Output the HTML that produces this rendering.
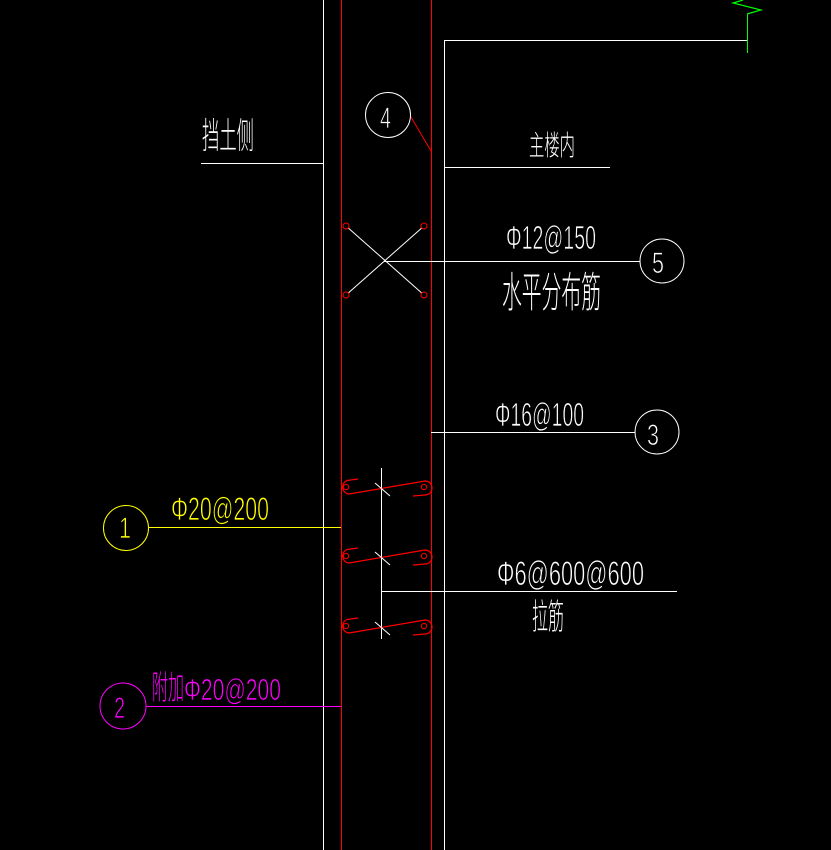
<!DOCTYPE html>
<html><head><meta charset="utf-8"><style>
html,body{margin:0;padding:0;background:#000;width:831px;height:850px;overflow:hidden}
svg{display:block}
.lat{font-family:"Liberation Sans Narrow","Liberation Sans",sans-serif;font-weight:normal;stroke:#000;stroke-width:0.8px}
.cjk{font-family:"Liberation Sans","Noto Sans CJK SC",sans-serif;font-weight:300}
</style></head><body>
<svg width="831" height="850" viewBox="0 0 831 850" xmlns="http://www.w3.org/2000/svg">
<rect width="831" height="850" fill="#000"/>
<g fill="none" stroke-width="1" shape-rendering="crispEdges">
  <line x1="323.5" y1="0" x2="323.5" y2="850" stroke="#fff"/>
  <line x1="341.5" y1="0" x2="341.5" y2="850" stroke="#ff0000"/>
  <line x1="431.5" y1="0" x2="431.5" y2="850" stroke="#ff0000"/>
  <line x1="444.5" y1="40" x2="444.5" y2="850" stroke="#fff"/>
  <line x1="444" y1="40.5" x2="747" y2="40.5" stroke="#fff"/>
  <line x1="201" y1="163.5" x2="323" y2="163.5" stroke="#fff"/>
  <line x1="444" y1="167.5" x2="610" y2="167.5" stroke="#fff"/>
  <line x1="384" y1="261.5" x2="640" y2="261.5" stroke="#fff"/>
  <line x1="431" y1="432.5" x2="635" y2="432.5" stroke="#fff"/>
  <line x1="381.5" y1="468" x2="381.5" y2="639" stroke="#fff"/>
  <line x1="381" y1="591.5" x2="677" y2="591.5" stroke="#fff"/>
  <line x1="149" y1="527.5" x2="341" y2="527.5" stroke="#ffff00"/>
  <line x1="146" y1="706.5" x2="341" y2="706.5" stroke="#ff00ff"/>
  <line x1="747.5" y1="14" x2="747.5" y2="53" stroke="#00ff00"/>
</g>
<polyline points="747,14 761,10 733,3 743,0" fill="none" stroke="#00ff00" stroke-width="1.2"/>
<line x1="411" y1="117" x2="431" y2="151" stroke="#ff0000" stroke-width="1"/>
<g stroke="#fff" stroke-width="1" fill="none">
  <line x1="346" y1="226" x2="424" y2="295"/>
  <line x1="424" y1="226" x2="346" y2="295"/>
</g>
<g stroke="#ff0000" stroke-width="1" fill="#000">
  <circle cx="346" cy="226" r="3"/>
  <circle cx="424" cy="226" r="3"/>
  <circle cx="346" cy="295" r="3"/>
  <circle cx="424" cy="295" r="3"/>
</g>
<defs>
  <g id="tie">
    <path d="M358,479 L347,480.5 A7,7 0 0 0 349,494 L425,481 A7,7 0 0 1 425,495 L413,496" fill="none" stroke="#ff0000" stroke-width="1.2"/>
    <circle cx="346" cy="487" r="2.7" fill="none" stroke="#ff0000" stroke-width="1"/>
    <circle cx="424" cy="487" r="2.7" fill="none" stroke="#ff0000" stroke-width="1"/>
    <line x1="375" y1="483" x2="390" y2="496" stroke="#fff" stroke-width="1"/>
  </g>
</defs>
<use href="#tie"/>
<use href="#tie" transform="translate(0,69)"/>
<use href="#tie" transform="translate(0,139)"/>
<g fill="none" stroke-width="1">
  <circle cx="388" cy="115" r="22.5" stroke="#fff"/>
  <circle cx="662" cy="261" r="22" stroke="#fff"/>
  <circle cx="657" cy="432" r="22" stroke="#fff"/>
  <circle cx="126" cy="528" r="22.5" stroke="#ffff00"/>
  <circle cx="123" cy="706" r="23" stroke="#ff00ff"/>
</g>
<g class="lat" font-size="30">
  <text x="380" y="128" fill="#fff" textLength="11" lengthAdjust="spacingAndGlyphs">4</text>
  <text x="652" y="273" fill="#fff" textLength="12" lengthAdjust="spacingAndGlyphs">5</text>
  <text x="647" y="445" fill="#fff" textLength="12" lengthAdjust="spacingAndGlyphs">3</text>
  <text x="119" y="538" fill="#ffff00" textLength="12" lengthAdjust="spacingAndGlyphs">1</text>
  <text x="114" y="718" fill="#ff00ff" textLength="11" lengthAdjust="spacingAndGlyphs">2</text>
</g>
<text class="cjk" x="202" y="148" font-size="36" fill="#fff" textLength="52" lengthAdjust="spacingAndGlyphs">挡土侧</text>
<text class="cjk" x="529" y="155" font-size="28" fill="#fff" textLength="46" lengthAdjust="spacingAndGlyphs">主楼内</text>
<text class="lat" x="506" y="249" font-size="33" fill="#fff" textLength="90" lengthAdjust="spacingAndGlyphs">Φ12@150</text>
<text class="cjk" x="502" y="307" font-size="42" fill="#fff" textLength="99" lengthAdjust="spacingAndGlyphs">水平分布筋</text>
<text class="lat" x="495" y="426" font-size="33" fill="#fff" textLength="89" lengthAdjust="spacingAndGlyphs">Φ16@100</text>
<text class="lat" x="497" y="585" font-size="34" fill="#fff" textLength="147" lengthAdjust="spacingAndGlyphs">Φ6@600@600</text>
<text class="cjk" x="532" y="629" font-size="35" fill="#fff" textLength="32" lengthAdjust="spacingAndGlyphs">拉筋</text>
<text class="lat" x="171" y="520" font-size="32" fill="#ffff00" textLength="98" lengthAdjust="spacingAndGlyphs">Φ20@200</text>
<text class="cjk" x="152" y="699" font-size="33" fill="#ff00ff" textLength="32" lengthAdjust="spacingAndGlyphs">附加</text>
<text class="lat" x="184" y="700" font-size="31" fill="#ff00ff" textLength="97" lengthAdjust="spacingAndGlyphs">Φ20@200</text>
</svg>
</body></html>
